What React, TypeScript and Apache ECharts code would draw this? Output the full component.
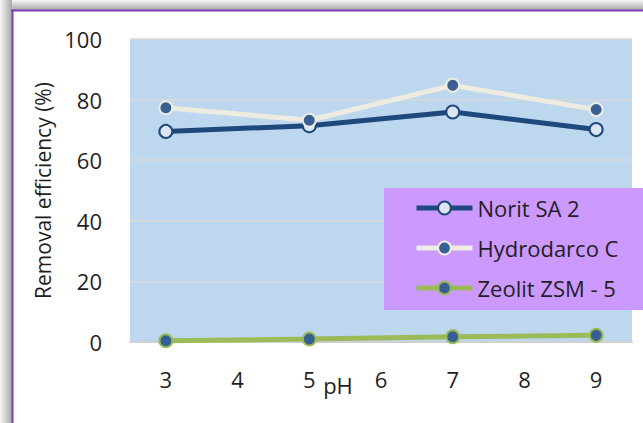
import React, { useEffect, useRef } from "react";
import * as echarts from "echarts";

const phTicks = ["3", "4", "5", "6", "7", "8", "9"];
const samplePH = ["3", "5", "7", "9"];
const noritSA2 = [69.5, 71.4, 75.9, 70.1];
const hydrodarcoC = [77.3, 73.2, 84.7, 76.7];
const zeolitZSM5 = [0.4, 1.0, 1.75, 2.2];
const yTicks = { min: 0, max: 100, interval: 20 };

const FONT = "'Open Sans', 'Noto Sans', sans-serif";
const TEXT = "#1f1f1f";

const pairs = (vals: number[]) => samplePH.map((p, i) => [p, vals[i]]);

export default function App() {
  const ref = useRef<HTMLDivElement>(null);
  useEffect(() => {
    if (!ref.current) return;
    const chart = echarts.init(ref.current, undefined, { renderer: "svg" });
    chart.setOption({
      animation: false,
      backgroundColor: "#ffffff",
      textStyle: { fontFamily: FONT },
      graphic: [
        {
          type: "rect",
          z: 0,
          shape: { x: 0, y: 0, width: 643, height: 10 },
          style: {
            fill: new echarts.graphic.LinearGradient(0, 0, 0, 1, [
              { offset: 0, color: "#f6f6f6" },
              { offset: 1, color: "#a9a9a9" },
            ]),
          },
        },
        {
          type: "rect",
          z: 0,
          shape: { x: 0, y: 0, width: 12, height: 423 },
          style: {
            fill: new echarts.graphic.LinearGradient(0, 0, 1, 0, [
              { offset: 0, color: "#f6f6f6" },
              { offset: 1, color: "#a9a9a9" },
            ]),
          },
        },
        {
          type: "line",
          z: 1,
          shape: { x1: 11, y1: 10.5, x2: 643, y2: 10.5 },
          style: { stroke: "#7d3fbd", lineWidth: 2 },
        },
        {
          type: "line",
          z: 1,
          shape: { x1: 12.5, y1: 10, x2: 12.5, y2: 423 },
          style: { stroke: "#7d3fbd", lineWidth: 2 },
        },
        {
          type: "rect",
          z: 3,
          shape: { x: 384, y: 188, width: 260, height: 122 },
          style: { fill: "#cc99ff" },
        },
        {
          type: "text",
          z: 5,
          x: 338,
          y: 385,
          style: {
            text: "pH",
            fontFamily: FONT,
            fontSize: 22,
            fill: TEXT,
            align: "center",
            verticalAlign: "middle",
          },
        },
      ],
      grid: {
        left: 130,
        right: 11,
        top: 39,
        bottom: 81,
        show: true,
        backgroundColor: "#bdd7ee",
        borderWidth: 0,
      },
      legend: {
        orient: "vertical",
        left: 414,
        top: 197,
        padding: 0,
        itemWidth: 56,
        itemHeight: 16,
        itemGap: 18,
        z: 6,
        lineStyle: { width: 5 },
        textStyle: { fontFamily: FONT, fontSize: 22, color: TEXT },
        data: ["Norit SA 2", "Hydrodarco C", "Zeolit ZSM - 5"],
      },
      xAxis: {
        type: "category",
        data: phTicks,
        boundaryGap: true,
        axisTick: { show: false },
        axisLine: { show: true, lineStyle: { color: "#d0d0d0", width: 2 } },
        axisLabel: { fontFamily: FONT, fontSize: 22, color: TEXT, margin: 26 },
        splitLine: { show: false },
      },
      yAxis: {
        type: "value",
        min: yTicks.min,
        max: yTicks.max,
        interval: yTicks.interval,
        name: "Removal efficiency (%)",
        nameLocation: "middle",
        nameGap: 70,
        nameTextStyle: { fontFamily: FONT, fontSize: 21, color: TEXT },
        axisLine: { show: false },
        axisTick: { show: false },
        axisLabel: { fontFamily: FONT, fontSize: 22, color: TEXT, margin: 28 },
        splitLine: { show: true, lineStyle: { color: "#d9d9d9", width: 1.5 } },
      },
      series: [
        {
          name: "Norit SA 2",
          type: "line",
          data: pairs(noritSA2),
          symbol: "circle",
          symbolSize: 13,
          lineStyle: { color: "#1f497d", width: 5 },
          itemStyle: { color: "#dce6f2", borderColor: "#1f497d", borderWidth: 2 },
        },
        {
          name: "Hydrodarco C",
          type: "line",
          data: pairs(hydrodarcoC),
          symbol: "circle",
          symbolSize: 13,
          lineStyle: { color: "#eeece1", width: 5 },
          itemStyle: { color: "#376092", borderColor: "#eeece1", borderWidth: 2 },
        },
        {
          name: "Zeolit ZSM - 5",
          type: "line",
          data: pairs(zeolitZSM5),
          symbol: "circle",
          symbolSize: 13,
          lineStyle: { color: "#9bbb59", width: 5 },
          itemStyle: { color: "#376092", borderColor: "#9bbb59", borderWidth: 2 },
        },
      ],
    });
    return () => chart.dispose();
  }, []);
  return (
    <div
      ref={ref}
      style={{ position: "fixed", left: 0, top: 0, width: 643, height: 423 }}
    />
  );
}
